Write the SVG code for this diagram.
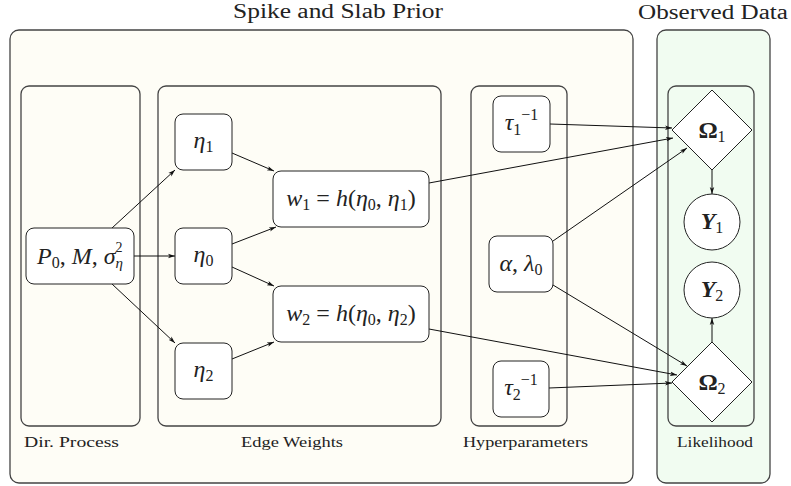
<svg xmlns="http://www.w3.org/2000/svg" width="791" height="486" viewBox="0 0 791 486">
<defs>
<style>
.box{fill:#fefdf6;stroke:#444;stroke-width:1.3}
.gbox{fill:#f1fcf1;stroke:#444;stroke-width:1.3}
.node{fill:#fff;stroke:#222;stroke-width:1}
.lbl{font-family:"Liberation Serif",serif;font-size:15px;fill:#222}
.title{font-family:"Liberation Serif",serif;font-size:20px;fill:#222}
.m{font-family:"Liberation Serif",serif;font-size:24px;font-style:italic;fill:#222}
.up{font-style:normal}
.b{font-weight:bold}
.s{font-size:16px;font-style:normal}
.ss{font-size:14px;font-style:normal}
.si{font-size:15px}
#connectors path{stroke:#111;stroke-width:1;fill:none;marker-end:url(#ah)}
</style>
<marker id="ah" viewBox="0 0 10 10" refX="10" refY="5" markerWidth="7" markerHeight="7" markerUnits="userSpaceOnUse" orient="auto">
<path d="M0,1.8 L10,5 L0,8.2 L2.5,5 z" fill="#111"/>
</marker>
</defs>
<rect width="791" height="486" fill="#fff"/>

<g id="spike-slab">
<rect class="box" x="10" y="30" width="623" height="453" rx="9"/>
<text class="title" x="338" y="18" text-anchor="middle" textLength="210" lengthAdjust="spacingAndGlyphs">Spike and Slab Prior</text>
</g>
<g id="observed-data">
<rect class="gbox" x="657" y="30" width="113" height="453" rx="9"/>
<text class="title" x="713" y="19" text-anchor="middle" textLength="150" lengthAdjust="spacingAndGlyphs">Observed Data</text>
</g>

<g id="dir-process">
<rect class="box" x="21" y="86" width="119" height="340" rx="8"/>
<text class="lbl" x="71.5" y="447" text-anchor="middle" textLength="95" lengthAdjust="spacingAndGlyphs">Dir.  Process</text>
</g>
<g id="edge-weights">
<rect class="box" x="158" y="86" width="283" height="340" rx="8"/>
<text class="lbl" x="292" y="447" text-anchor="middle" textLength="102" lengthAdjust="spacingAndGlyphs">Edge Weights</text>
</g>
<g id="hyperparameters">
<rect class="box" x="471" y="86" width="96" height="340" rx="8"/>
<text class="lbl" x="525.5" y="447" text-anchor="middle" textLength="125" lengthAdjust="spacingAndGlyphs">Hyperparameters</text>
</g>
<g id="likelihood">
<rect class="gbox" x="668" y="86" width="86" height="340" rx="8"/>
<text class="lbl" x="715" y="447" text-anchor="middle" textLength="76" lengthAdjust="spacingAndGlyphs">Likelihood</text>
</g>

<g id="connectors">
<path d="M112,228 L175,170"/>
<path d="M134,256 L175,256"/>
<path d="M112,284 L175,343"/>
<path d="M232,153 L274,171"/>
<path d="M232,244 L276,227"/>
<path d="M232,267 L274,286"/>
<path d="M232,359 L274,342"/>
<path d="M429,183 L673,138"/>
<path d="M429,329 L677,375"/>
<path d="M550,124 L672,128"/>
<path d="M553,241 L687,148"/>
<path d="M553,285 L687,366"/>
<path d="M549,388 L672,383"/>
<path d="M712,170 L712,194"/>
<path d="M712,342 L712,318"/>
</g>

<g id="node-p0">
<rect class="node" x="26" y="228" width="108" height="56" rx="8"/>
<text class="m" x="80" y="264" text-anchor="middle" font-size="23"><tspan>P</tspan><tspan class="s" dy="4">0</tspan><tspan class="up" dy="-4">, </tspan><tspan>M</tspan><tspan class="up">, </tspan><tspan>σ</tspan><tspan class="ss" dy="-12">2</tspan><tspan class="si" dx="-7" dy="16">η</tspan></text>
</g>
<g id="node-eta1">
<rect class="node" x="175" y="114" width="57" height="56" rx="8"/>
<text class="m" x="203.5" y="148" text-anchor="middle"><tspan>η</tspan><tspan class="s" dy="4">1</tspan></text>
</g>
<g id="node-eta0">
<rect class="node" x="175" y="228" width="57" height="56" rx="8"/>
<text class="m" x="203.5" y="262" text-anchor="middle"><tspan>η</tspan><tspan class="s" dy="4">0</tspan></text>
</g>
<g id="node-eta2">
<rect class="node" x="175" y="343" width="57" height="56" rx="8"/>
<text class="m" x="203.5" y="377" text-anchor="middle"><tspan>η</tspan><tspan class="s" dy="4">2</tspan></text>
</g>
<g id="node-w1">
<rect class="node" x="273" y="171" width="156" height="56" rx="8"/>
<text class="m" x="351" y="206" text-anchor="middle"><tspan>w</tspan><tspan class="s" dy="4">1</tspan><tspan class="up" dy="-4"> = </tspan><tspan>h</tspan><tspan class="up">(</tspan><tspan>η</tspan><tspan class="s" dy="4">0</tspan><tspan class="up" dy="-4">, </tspan><tspan>η</tspan><tspan class="s" dy="4">1</tspan><tspan class="up" dy="-4">)</tspan></text>
</g>
<g id="node-w2">
<rect class="node" x="273" y="286" width="156" height="56" rx="8"/>
<text class="m" x="351" y="321" text-anchor="middle"><tspan>w</tspan><tspan class="s" dy="4">2</tspan><tspan class="up" dy="-4"> = </tspan><tspan>h</tspan><tspan class="up">(</tspan><tspan>η</tspan><tspan class="s" dy="4">0</tspan><tspan class="up" dy="-4">, </tspan><tspan>η</tspan><tspan class="s" dy="4">2</tspan><tspan class="up" dy="-4">)</tspan></text>
</g>
<g id="node-tau1">
<rect class="node" x="493" y="96" width="57" height="56" rx="8"/>
<text class="m" x="521.5" y="130" text-anchor="middle"><tspan>τ</tspan><tspan class="s" dy="5">1</tspan><tspan class="s" dy="-15">−1</tspan></text>
</g>
<g id="node-alpha">
<rect class="node" x="489" y="236" width="64" height="56" rx="8"/>
<text class="m" x="521" y="271" text-anchor="middle"><tspan>α</tspan><tspan class="up">, </tspan><tspan>λ</tspan><tspan class="s" dy="4">0</tspan></text>
</g>
<g id="node-tau2">
<rect class="node" x="493" y="361" width="56" height="56" rx="8"/>
<text class="m" x="521" y="395" text-anchor="middle"><tspan>τ</tspan><tspan class="s" dy="5">2</tspan><tspan class="s" dy="-15">−1</tspan></text>
</g>
<g id="node-omega1">
<path class="node" d="M712,90 L752,130 L712,170 L672,130 Z"/>
<text class="m up b" x="712" y="138" text-anchor="middle"><tspan>Ω</tspan><tspan class="s" dy="4" font-weight="normal">1</tspan></text>
</g>
<g id="node-y1">
<circle class="node" cx="712" cy="222" r="28"/>
<text class="m b" x="712" y="229" text-anchor="middle"><tspan>Y</tspan><tspan class="s" dy="4" font-weight="normal">1</tspan></text>
</g>
<g id="node-y2">
<circle class="node" cx="712" cy="290" r="28"/>
<text class="m b" x="712" y="297" text-anchor="middle"><tspan>Y</tspan><tspan class="s" dy="4" font-weight="normal">2</tspan></text>
</g>
<g id="node-omega2">
<path class="node" d="M712,342 L752,382 L712,422 L672,382 Z"/>
<text class="m up b" x="712" y="390" text-anchor="middle"><tspan>Ω</tspan><tspan class="s" dy="4" font-weight="normal">2</tspan></text>
</g>
</svg>
